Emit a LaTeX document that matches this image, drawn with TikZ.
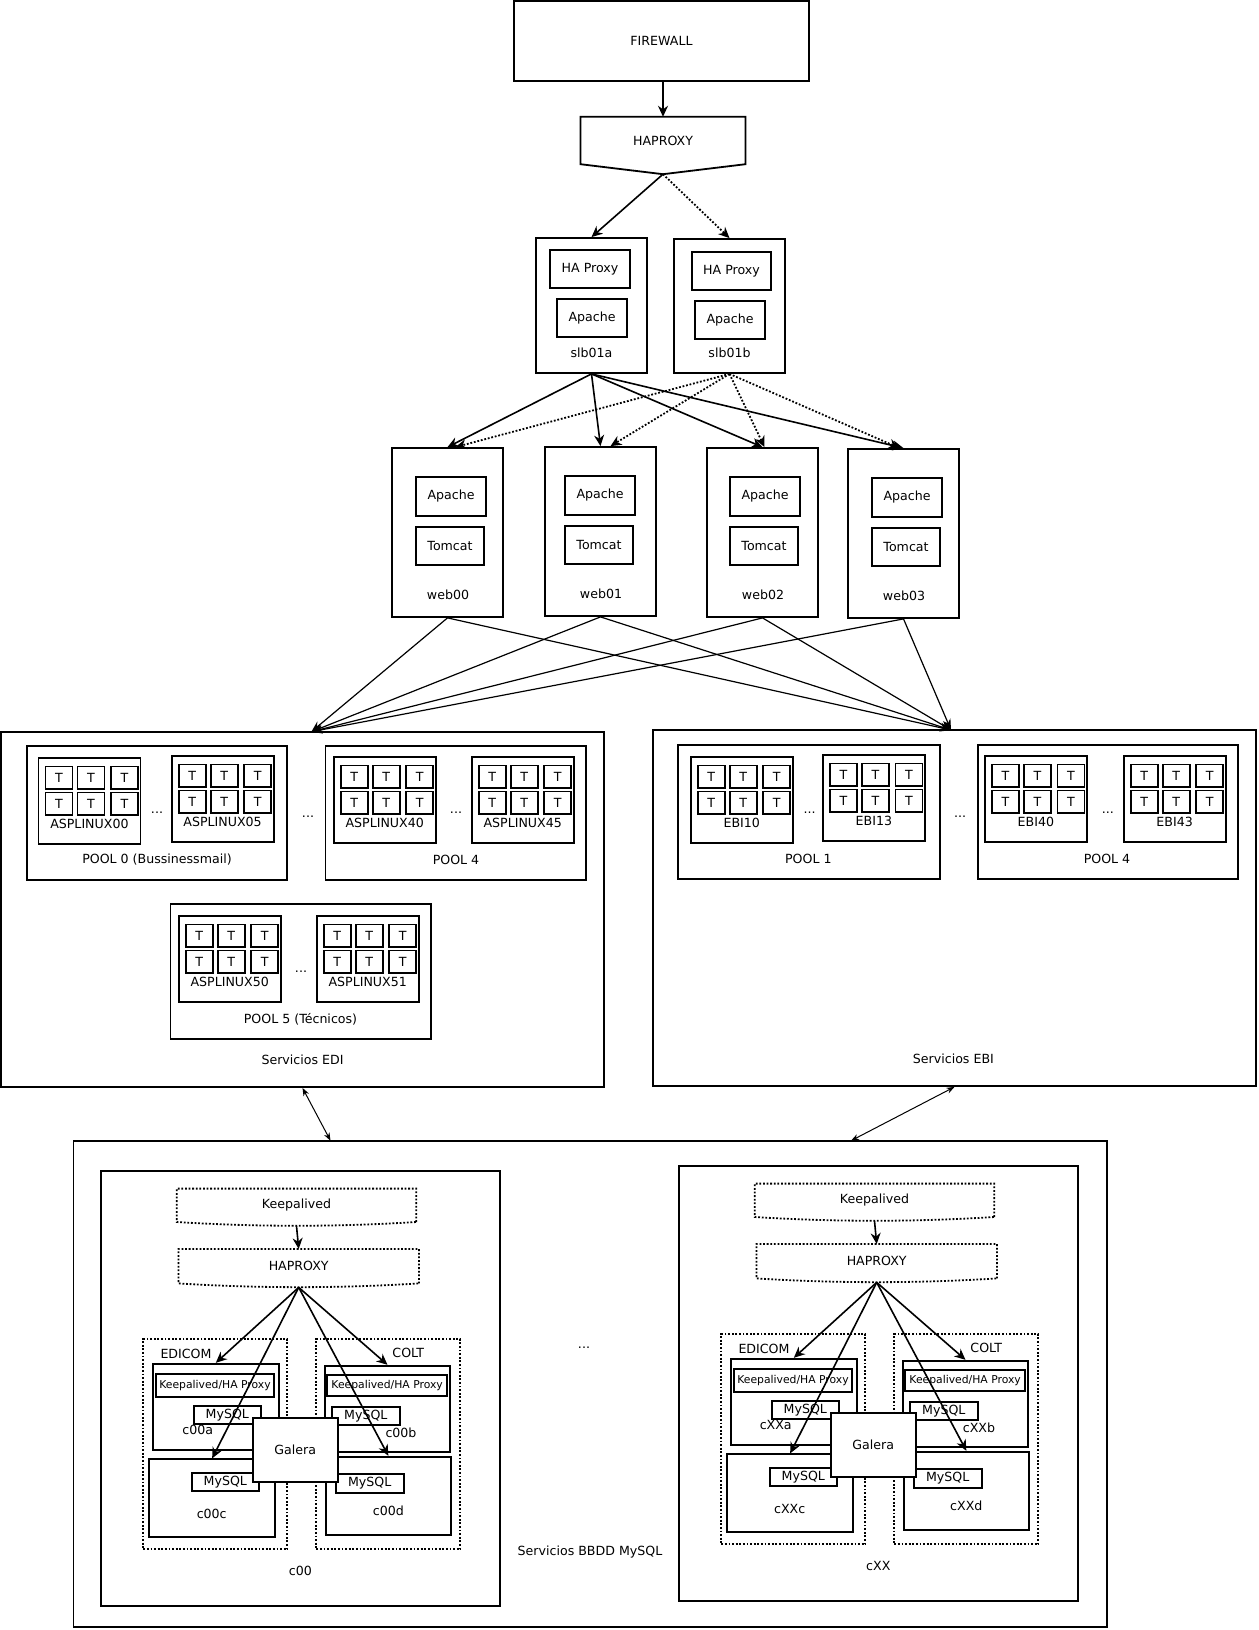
\documentclass[tikz,border=0pt]{standalone}
\usepackage{fontspec}
\setmainfont{DejaVu Sans}
\usetikzlibrary{arrows.meta,calc}

\tikzset{
  box/.style={draw, line width=1.8pt, inner sep=0pt},
  dotline/.style={line width=1.8pt, dash pattern=on 1.8pt off 1.8pt},
  tbox/.style={box, minimum width=27, minimum height=22.5},
  khtext/.style={font=\fontsize{10.8}{13}\selectfont},
  arr/.style={-{Stealth[length=11pt,width=10pt]}, line width=1.6pt},
  thinarr/.style={-{Stealth[length=11pt,width=8pt]}, line width=1.2pt},
  biarr/.style={{Stealth[length=8pt,width=6pt]}-{Stealth[length=8pt,width=6pt]}, line width=1pt},
}

\newcommand{\boxnode}[7][]{%
  \node[box, minimum width={(#5)-(#3)}, minimum height={(#6)-(#4)}, #1] (#2) at ({((#3)+(#5))/2},{((#4)+(#6))/2}) {#7};}

\newcommand{\srv}[4]{%
  \boxnode{#1}{#2}{#3}{#2+102}{#3+86}{}
  \foreach \cx/\ry [count=\k] in {20.5/20,52.5/20,86/20,20.5/46,52.5/46,86/46}
    \node[tbox] (#1t\k) at ({#2+\cx},{#3+\ry}) {T};
  \node (#1l) at ({#2+51},{#3+66.5}) {#4};}

\newcommand{\dbcl}[3]{%
  \boxnode{#1}{101.3+#2}{1170.7+#3}{500.3+#2}{1606+#3}{}
  \node (#1l) at ({300.3+#2},{1571.3+#3}) {#1};
  \node[inner sep=0pt, minimum width=239, minimum height=33] (#1k) at ({296.5+#2},{1205.3+#3}) {Keepalived};
  \node[inner sep=0pt, minimum width=240, minimum height=34] (#1h) at ({298.7+#2},{1266.2+#3}) {HAPROXY};
  \foreach \n in {#1k,#1h}
    \draw[dotline] (\n.south east) -- (\n.north east) -- (\n.north west) -- (\n.south west)
      .. controls +(80,5) and +(-80,5) .. (\n.south east);
  \draw[arr] ($(#1k.south)+(0,4)$) -- (#1h.north);
  \coordinate (#1tip) at ($(#1h.south)+(0,4)$);
  \boxnode[dotline]{#1e}{143.3+#2}{1339+#3}{287.3+#2}{1549.3+#3}{}
  \node (#1el) at ({186+#2},{1354+#3}) {EDICOM};
  \boxnode{#1a}{152.7+#2}{1363.7+#3}{279+#2}{1449.7+#3}{}
  \boxnode[khtext]{#1ak}{156+#2}{1374+#3}{274+#2}{1397+#3}{Keepalived/HA Proxy}
  \boxnode{#1am}{193.7+#2}{1405.7+#3}{261+#2}{1423.7+#3}{MySQL}
  \node (#1al) at ({197.7+#2},{1430+#3}) {#1a};
  \boxnode{#1c}{149.3+#2}{1459.3+#3}{275+#2}{1536.7+#3}{}
  \boxnode{#1cm}{191.7+#2}{1472.7+#3}{259+#2}{1491+#3}{MySQL}
  \node (#1cl) at ({211.7+#2},{1514.3+#3}) {#1c};
  \boxnode[dotline]{#1o}{316.3+#2}{1339+#3}{460.3+#2}{1549.3+#3}{}
  \node (#1ol) at ({408.3+#2},{1352.7+#3}) {COLT};
  \boxnode{#1b}{325+#2}{1365.7+#3}{450+#2}{1452+#3}{}
  \boxnode[khtext]{#1bk}{327.3+#2}{1374.7+#3}{447+#2}{1395.7+#3}{Keepalived/HA Proxy}
  \boxnode{#1bm}{331.7+#2}{1406.7+#3}{400+#2}{1425+#3}{MySQL}
  \node (#1bl) at ({401+#2},{1432.7+#3}) {#1b};
  \boxnode{#1d}{325.7+#2}{1456.7+#3}{451+#2}{1534.7+#3}{}
  \boxnode{#1dm}{335.7+#2}{1474.3+#3}{403.7+#2}{1492.7+#3}{MySQL}
  \node (#1dl) at ({388.3+#2},{1511+#3}) {#1d};
  \foreach \n in {a,c,b,d}
    \draw[arr] (#1tip) -- (#1\n.north);
  \boxnode[fill=white]{#1g}{252.7+#2}{1417.7+#3}{337.7+#2}{1481.7+#3}{Galera}
}

\begin{document}
\begin{tikzpicture}[x=1pt, y=-1pt, font=\fontsize{12.6}{15}\selectfont]
    \useasboundingbox (0,0) rectangle (1258,1630);

    \boxnode{fw}{514}{1}{809}{81}{FIREWALL}
    \node[inner sep=0pt, minimum width=164.6, minimum height=47] (hp) at (663,140.5) {HAPROXY};
    \draw[line width=1.8pt] (hp.north west) -- (hp.north east) -- (hp.south east) -- ($(hp.south)+(0,10)$) -- (hp.south west) -- cycle;
    \coordinate (hptip) at ($(hp.south)+(0,10)$);
    \draw[arr] (fw.south -| hp.north) -- (hp.north);

    \boxnode{slba}{536}{238}{647}{373}{}
    \boxnode{slbaha}{550}{250}{630}{288}{HA Proxy}
    \boxnode{slbaap}{557}{299}{627}{337}{Apache}
    \node (slbal) at (591.5,353) {slb01a};
    \boxnode{slbb}{674}{239}{785}{373}{}
    \boxnode{slbbha}{692}{252}{771}{290}{HA Proxy}
    \boxnode{slbbap}{695}{301}{765}{339}{Apache}
    \node (slbbl) at (729.5,353) {slb01b};
    \draw[arr] (hptip) -- (slba.north);
    \draw[arr, dotline] (hptip) -- (slbb.north);

    \foreach \w/\x/\y/\dx in {00/392/448/24, 01/545/447/20, 02/707/448/23, 03/848/449/24} {
        \boxnode{web\w}{\x}{\y}{\x+111}{\y+169}{}
        \boxnode{ap\w}{\x+\dx}{\y+29}{\x+\dx+70}{\y+68}{Apache}
        \boxnode{tc\w}{\x+\dx}{\y+79}{\x+\dx+68}{\y+117}{Tomcat}
        \node (lbl\w) at ({\x+56},{\y+147}) {web\w};
    }
    \foreach \w/\o in {00/8, 01/10, 02/2, 03/-4} {
        \draw[arr] (slba.south) -- (web\w.north);
        \draw[arr, dotline] (slbb.south) -- ($(web\w.north)+(\o,0)$);
    }

    \boxnode{edi}{1}{732}{604}{1087}{}
    \node (edil) at (302.5,1060) {Servicios EDI};
    \boxnode{pool0}{27}{746}{287}{880}{}
    \srv{asp00}{38.4}{757.7}{ASPLINUX00}
    \srv{asp05}{171.6}{755.7}{ASPLINUX05}
    \node (pool0d) at (157,813) {...};
    \node (pool0l) at (157,860) {POOL 0 (Bussinessmail)};
    \node (edid) at (308,817) {...};
    \boxnode{pool4}{325.4}{746}{586}{880}{}
    \srv{asp40}{333.7}{756.7}{ASPLINUX40}
    \srv{asp45}{471.7}{756.7}{ASPLINUX45}
    \node (pool4d) at (456,813) {...};
    \node (pool4l) at (456,860) {POOL 4};
    \boxnode{pool5}{170.4}{904.3}{431}{1039}{}
    \srv{asp50}{178.7}{915.7}{ASPLINUX50}
    \srv{asp51}{316.7}{915.7}{ASPLINUX51}
    \node (pool5d) at (301,971.7) {...};
    \node (pool5l) at (300.5,1019) {POOL 5 (Técnicos)};

    \boxnode{ebi}{653}{730}{1256}{1086}{}
    \node (ebil) at (953.4,1059) {Servicios EBI};
    \boxnode{pool1}{678.2}{744.7}{939.6}{879}{}
    \srv{ebi10}{690.8}{756.7}{EBI10}
    \srv{ebi13}{822.9}{754.7}{EBI13}
    \node (pool1d) at (809.5,812.7) {...};
    \node (pool1l) at (808.3,859.3) {POOL 1};
    \node (ebid) at (960,816.7) {...};
    \boxnode{pool4b}{977.8}{744.7}{1238.3}{879}{}
    \srv{ebi40}{984.9}{755.7}{EBI40}
    \srv{ebi43}{1123.6}{755.7}{EBI43}
    \node (pool4bd) at (1107.9,812.7) {...};
    \node (pool4bl) at (1107,859.3) {POOL 4};

    \coordinate (ediin) at (311.4,731.7);
    \coordinate (ebiin) at (951,730);
    \foreach \w in {00,01,02,03} {
        \draw[thinarr] (web\w.south) -- (ediin);
        \draw[thinarr] (web\w.south) -- (ebiin);
    }

    \boxnode{bbdd}{73.5}{1140.7}{1107.3}{1627.3}{}
    \node (bbddl) at (590,1551.7) {Servicios BBDD MySQL};
    \node (bbddd) at (584,1347.7) {...};
    \dbcl{c00}{0}{0}
    \dbcl{cXX}{578}{(-5)}

    \coordinate (dbedi) at (330.5,1140.7);
    \coordinate (dbebi) at (851,1140.7);
    \draw[biarr] (edi.south) -- (dbedi);
    \draw[biarr] (ebi.south) -- (dbebi);
\end{tikzpicture}
\end{document}
